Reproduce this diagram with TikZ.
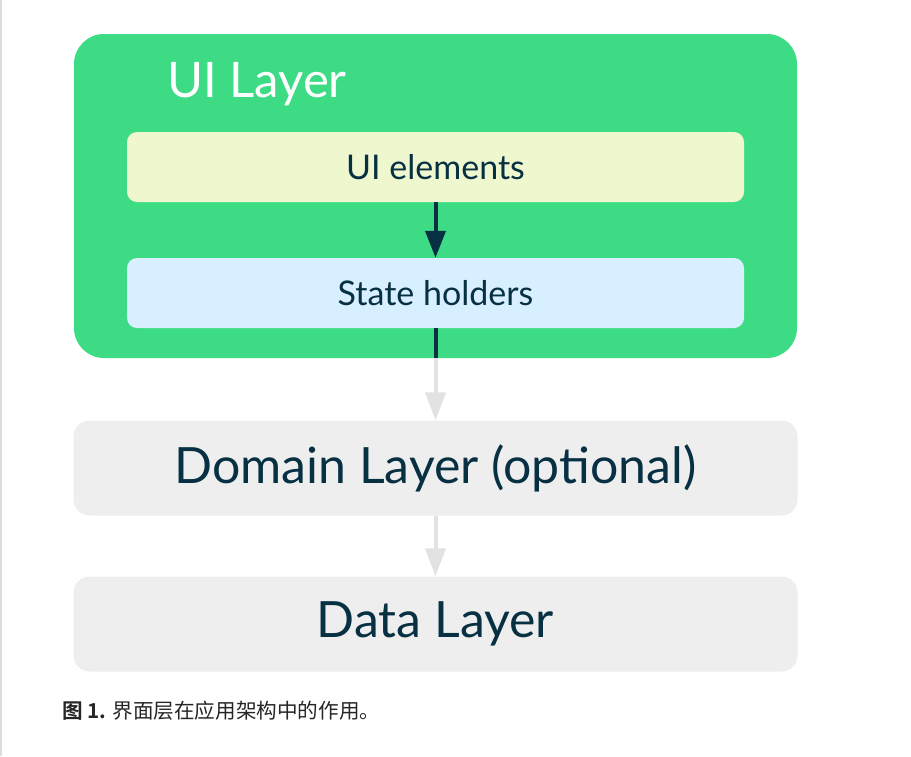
\documentclass[tikz,border=0pt]{standalone}
\usepackage{fontspec}
\setmainfont{Lato}
\newfontfamily\cjk{Noto Sans CJK SC}[BoldFont={Noto Sans CJK SC Bold}]
\usetikzlibrary{arrows.meta}

\definecolor{uigreen}{HTML}{3DDC84}
\definecolor{uidark}{HTML}{073042}
\definecolor{elemfill}{HTML}{EFF7CF}
\definecolor{statefill}{HTML}{D7EFFE}
\definecolor{layerfill}{HTML}{EEEEEE}
\definecolor{pageline}{HTML}{DADCE0}

\tikzset{
  innerbox/.style={rounded corners=10pt, minimum width=617pt, minimum height=70pt,
    inner sep=0pt, text=uidark, font=\fontsize{34}{40}\selectfont},
  layerbox/.style={fill=layerfill, rounded corners=16pt, minimum width=724pt,
    minimum height=95pt, inner sep=0pt, text=uidark, font=\fontsize{50}{58}\selectfont},
  darkarrow/.style={uidark, line width=4pt, -{Triangle[width=20pt,length=27pt]}},
  lightarrow/.style={layerfill!95!black, line width=4pt, -{Triangle[width=20pt,length=28pt]}}
}

\begin{document}
\begin{tikzpicture}[x=1pt, y=-1pt]
\useasboundingbox [fill=white] (0, 0) rectangle (911, 756);
\draw [pageline, line width=1.5pt] (0.75, 0) -- (0.75, 756);

% ui layer
\node [fill=uigreen, rounded corners=30pt, minimum width=723pt, minimum height=324pt,
  inner sep=0pt] (uilayer) at (435.5, 196) {};
\node [anchor=base west, text=white, font=\fontsize{49}{56}\selectfont, inner sep=0pt]
  (uititle) at (167, 97) {UI Layer};

\node [innerbox, fill=elemfill] (elements) at (435.5, 167) {UI elements};
\node [innerbox, fill=statefill] (holders) at (435.5, 293) {State holders};

% other layers
\node [layerbox] (domain) at (435.5, 468) {Domain Layer (optional)};
\node [layerbox] (data) at (435.5, 624) {Data Layer};

\draw [lightarrow] (uilayer.south) -- (domain.north);
\draw [uidark, line width=4pt] (holders.south) -- (uilayer.south);
\draw [darkarrow] (elements.south) -- (holders.north);
\draw [lightarrow] (domain.south) -- (data.north);

\node [anchor=base west, inner sep=0pt, font=\cjk\fontsize{20.6}{25}\selectfont, text=black!85]
  (caption) at (62, 718) {\textbf{图 1.} 界面层在应用架构中的作用。};

\end{tikzpicture}
\end{document}
